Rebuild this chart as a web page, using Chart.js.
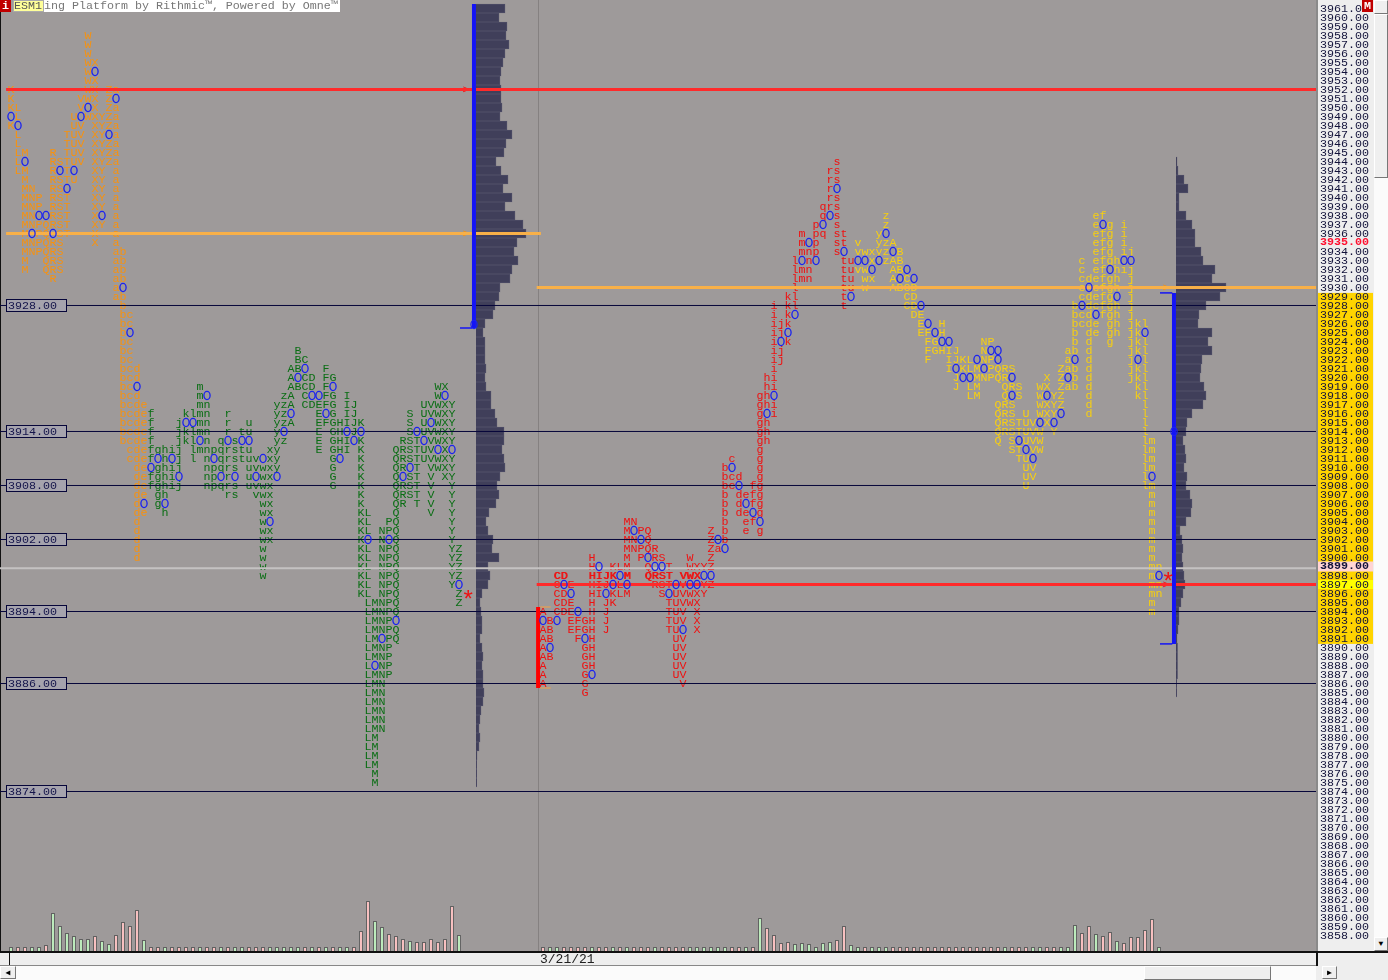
<!DOCTYPE html>
<html>
<head>
<meta charset="utf-8">
<title>ESM1 market profile</title>
<script src="https://cdn.jsdelivr.net/npm/chart.js@4"></script>
<style>
  html, body { margin: 0; padding: 0; background: #eeeeee; width: 1388px; height: 980px; overflow: hidden; }
  canvas { position: absolute; left: 0; top: 0; }
  .ui { position: absolute; box-sizing: border-box; font: 11.67px/12px "Liberation Mono", monospace; white-space: pre; }
  .btn { background: #efefef; border: 1px solid; border-color: #fff #777 #777 #fff; }
  .hatch { background: #fbfbfb; }
</style>
</head>
<body>
<canvas id="chart" width="1388" height="980"></canvas>

<!-- window chrome -->
<div class="ui" style="left:0;top:0;width:11px;height:12px;background:#c00000;color:#fff;text-align:center;font-weight:bold">i</div>
<div class="ui" style="left:13px;top:0;width:31px;height:12px;background:#ffff99;color:#555;border:1px solid #aaa;line-height:10px">ESM1</div>
<div class="ui" style="left:44px;top:0;width:296px;height:12px;background:#fff;color:#777">ing Platform by Rithmic™, Powered by Omne™</div>
<div class="ui" style="left:1362px;top:0;width:11px;height:12px;background:#c00000;color:#fff;text-align:center;font-weight:bold">M</div>
<div class="ui hatch" style="left:1374px;top:0;width:14px;height:951px"></div>
<div class="ui btn" style="left:1374px;top:0;width:14px;height:14px"></div>
<div class="ui btn" style="left:1374px;top:14px;width:14px;height:164px"></div>
<div class="ui btn" style="left:1374px;top:937px;width:14px;height:14px;text-align:center;font-size:8px">▼</div>
<div class="ui" style="left:0;top:951px;width:1388px;height:2px;background:#111"></div>
<div class="ui" style="left:1316px;top:951px;width:2px;height:15px;background:#111"></div>
<div class="ui" style="left:9px;top:952px;width:1px;height:14px;background:#111"></div>
<div class="ui" style="left:0;top:965px;width:1316px;height:1px;background:#888"></div>
<div class="ui hatch" style="left:0;top:966px;width:1316px;height:14px"></div>
<div class="ui btn" style="left:0;top:966px;width:16px;height:13px;text-align:center;font-size:8px;line-height:11px">◀</div>
<div class="ui btn" style="left:1144px;top:966px;width:127px;height:14px"></div>
<div class="ui btn" style="left:1322px;top:966px;width:15px;height:13px;text-align:center;font-size:8px;line-height:11px">▶</div>

<script>
// Price axis
const priceTop = 3961.9444;
const priceBottom = 3856.2778;
const priceTicks = [];
for (let p = 3961; p >= 3858; p--) priceTicks.push(p);
const highlightTick = 3935;
const lastTick = 3899;
const closeTick = 3897;
const valueAreaTicks = [3929.4, 3890.4];
const sessionDates = [[76, "3/21/21"]];

// Reference levels with a box on the left
const refLevels = [3928, 3914, 3908, 3902, 3894, 3886, 3874];

// [price, first column, letters]  space = empty column, 0 = blue open marker
const orangeRows = [
  [3958,11,"W"],[3957,11,"W"],[3956,11,"W"],[3955,11,"WX"],[3954,11,"W0"],[3953,11,"WX"],
  [3952,0,"K          WX Za"],[3951,0,"K         VWX Z0"],[3950,0,"KL        V0X Za"],
  [3949,0,"0L       U0WXYZa"],[3948,0,"K0       UV XYZa"],[3947,1,"L      TUV XY0a"],
  [3946,1,"L      TUV XYZa"],[3945,1,"LM   R TUV XYZa"],[3944,1,"L0   RSTUV XYZa"],
  [3943,1,"LM   R0T0  XY a"],[3942,2,"M   RSTU  XY a"],[3941,2,"MN  RS0   XY a"],
  [3940,2,"MNP RST   XY a"],[3939,2,"MNP RST   XY a"],[3938,2,"MN00RST   X0 a"],
  [3937,2,"MNPQRST   XY a"],[3936,2,"M0PQ0ST   X  a"],[3935,2,"MNPQRS    X  a"],
  [3934,2,"MNPQRS       ab"],[3933,2,"M  QRS       ab"],[3932,2,"M  QRS       ab"],
  [3931,6,"R        ab"],[3930,15,"a0"],[3929,15,"ab"],[3928,16,"b"],[3927,16,"bc"],
  [3926,16,"bc"],[3925,16,"b0"],[3924,16,"bc"],[3923,16,"bc"],[3922,16,"bc"],
  [3921,16,"bcd"],[3920,16,"bcd"],[3919,16,"bc0"],[3918,16,"bcd"],[3917,16,"bcde"],
  [3916,16,"bcde"],[3915,16,"bcde"],[3914,16,"bcde"],[3913,16,"bcde"],[3912,17,"cde"],
  [3911,17,"cde"],[3910,18,"de"],[3909,18,"de"],[3908,18,"de"],[3907,18,"de"],
  [3906,18,"d0"],[3905,18,"de"],[3904,18,"d"],[3903,18,"d"],[3902,18,"d"],[3901,18,"d"],
  [3900,18,"d"],[3936,65,">"],[3930,165,">"]
];

const greenRows = [
  [3923,41,"B"],[3922,41,"BC"],[3921,40,"AB0  F"],[3920,40,"A0CD FG"],
  [3919,27,"m"],[3919,40,"ABCD F0"],[3919,61,"WX"],
  [3918,27,"m0"],[3918,39,"zA C00FG I"],[3918,61,"W0"],
  [3917,27,"mn"],[3917,38,"yzA CDEFG IJ"],[3917,59,"UVWXY"],
  [3916,20,"f"],[3916,25,"klmn"],[3916,31,"r"],[3916,38,"yz0   E0G IJ"],[3916,57,"S UVWXY"],
  [3915,20,"f"],[3915,24,"j00mn"],[3915,31,"r"],[3915,34,"u"],[3915,38,"yzA   EFGHIJK"],[3915,57,"S U0WXY"],
  [3914,20,"f"],[3914,24,"jklmn"],[3914,31,"r"],[3914,33,"tu"],[3914,38,"y0"],[3914,44,"E GH0J0"],[3914,57,"S0UVWXY"],
  [3913,20,"f"],[3913,24,"jkl0n"],[3913,30,"q0s00"],[3913,38,"yz"],[3913,44,"E GHI0K"],[3913,56,"RST0VWXY"],
  [3912,20,"fghij"],[3912,26,"lmnpqrstu"],[3912,37,"xy"],[3912,44,"E GHI K"],[3912,55,"QRSTUV0X0"],
  [3911,20,"f0h0j"],[3911,26,"l n0qrstuv0xy"],[3911,46,"G0  K"],[3911,55,"QRSTUVWXY"],
  [3910,20,"0ghij"],[3910,28,"npqrs uvwxy"],[3910,46,"G   K"],[3910,55,"QR0T VWXY"],
  [3909,20,"fghi0"],[3909,28,"np0r0 u0wx0"],[3909,46,"G   K"],[3909,55,"Q0ST V XY"],
  [3908,20,"fghij"],[3908,28,"npqrs uvwx"],[3908,46,"G   K"],[3908,55,"QRST V  Y"],
  [3907,21,"gh"],[3907,31,"rs"],[3907,35,"vwx"],[3907,50,"K"],[3907,55,"QRST V  Y"],
  [3906,21,"g0"],[3906,36,"wx"],[3906,50,"K"],[3906,55,"QR T V  Y"],
  [3905,22,"h"],[3905,36,"wx"],[3905,50,"KL"],[3905,55,"Q    V  Y"],
  [3904,36,"w0"],[3904,50,"KL  PQ"],[3904,63,"Y"],
  [3903,36,"wx"],[3903,50,"KL NPQ"],[3903,63,"Y"],
  [3902,36,"wx"],[3902,50,"K0 N0Q"],[3902,63,"Y"],
  [3901,36,"w"],[3901,50,"KL NPQ"],[3901,63,"YZ"],
  [3900,36,"w"],[3900,50,"KL NPQ"],[3900,63,"YZ"],
  [3899,36,"w"],[3899,50,"KL NPQ"],[3899,63,"YZ"],
  [3898,36,"w"],[3898,50,"KL NPQ"],[3898,63,"YZ"],
  [3897,50,"KL NPQ"],[3897,63,"Y0"],[3896,50,"KL NPQ"],[3896,64,"Z"],
  [3895,51,"LMNPQ"],[3895,64,"Z"],[3894,51,"LMNPQ"],[3893,51,"LMNP0"],[3892,51,"LMNPQ"],
  [3891,51,"LM0PQ"],[3890,51,"LMNP"],[3889,51,"LMNP"],[3888,51,"L0NP"],[3887,51,"LMNP"],
  [3886,51,"LMN"],[3885,51,"LMN"],[3884,51,"LMN"],[3883,51,"LMN"],[3882,51,"LMN"],[3881,51,"LMN"],
  [3880,51,"LM"],[3879,51,"LM"],[3878,51,"LM"],[3877,51,"LM"],[3876,52,"M"],[3875,52,"M"]
];

const redRows = [
  [3944,118,"s"],[3943,117,"rs"],[3942,117,"rs"],[3941,117,"r0"],[3940,117,"rs"],
  [3939,116,"qrs"],[3938,116,"q0s"],[3937,115,"p0 s"],[3936,113,"m pq st"],[3935,113,"m0p  st"],
  [3934,113,"mnp  s0"],[3933,112,"l0n0   tu"],[3932,112,"lmn    tu"],[3931,112,"lmn    tu"],
  [3930,112,"l      tu"],[3929,111,"kl      t0"],[3928,109,"i kl      t"],[3927,109,"i k0"],
  [3926,109,"ijk"],[3925,109,"ij0"],[3924,109,"i0k"],[3923,109,"ij"],[3922,109,"ij"],[3921,109,"i"],
  [3920,108,"hi"],[3919,108,"hi"],[3918,107,"gh0"],[3917,107,"ghi"],[3916,107,"g0i"],
  [3915,107,"gh"],[3914,107,"gh"],[3913,107,"gh"],[3912,107,"g"],[3911,103,"c   g"],
  [3910,102,"b0   g"],[3909,102,"bcd  g"],[3908,102,"bc0 fg"],[3907,102,"b defg"],
  [3906,102,"b d0fg"],[3905,102,"b de0g"],[3904,88,"MN"],[3904,102,"b  ef0"],
  [3903,88,"M0PQ"],[3903,100,"Z b  e g"],[3902,88,"MN0Q"],[3902,100,"Z0b"],
  [3901,88,"MNPQR"],[3901,100,"Za0"],[3900,83,"H    M P0RS   W  Z"],
  [3899,83,"H0 KLM  Q00T  WXYZ"],[3898,78,"CD   HIJK0M  QRST VWX00"],
  [3897,78,"C0E  HIJ0L0   RST0V00YZ"],[3896,78,"CD0  HI0KLM    S0UVWXY"],
  [3895,78,"CDE  H JK       TUVWX"],[3894,76,"A CDE0 H J        TUV X"],
  [3893,76,"0B0 EFGH J        TUV X"],[3892,76,"AB  EFGH J        TU0 X"],
  [3891,76,"AB   F0H"],[3891,95,"UV"],[3890,76,"A0    GH"],[3890,95,"UV"],
  [3889,76,"AB    GH"],[3889,95,"UV"],[3888,76,"A     GH"],[3888,95,"UV"],
  [3887,76,"A     G0"],[3887,95,"UV"],[3886,76,"A     G"],[3886,96,"V"],[3885,82,"G"],
  [3952,65,">"],[3897,165,">"]
];
const boldRedPrices = [3898];

const yellowRows = [
  [3938,125,"z"],[3938,155,"ef"],[3937,125,"z"],[3937,155,"e0g i"],[3936,124,"y0"],[3936,155,"efg i"],
  [3935,121,"v  yzA"],[3935,155,"efg i"],[3934,121,"vwxyz0B"],[3934,155,"efg ij"],
  [3933,121,"00x0zAB"],[3933,153,"c efgh00"],[3932,121,"vw0  AB0"],[3932,153,"c ef0hij"],
  [3931,122,"wx  A0C0"],[3931,153,"cdefgh j"],[3930,122,"w   ABCD"],[3930,153,"c0efgh j"],
  [3929,128,"CD"],[3929,153,"cdefg0 j"],[3928,128,"CD0"],[3928,152,"b0defgh j"],
  [3927,129,"DE"],[3927,152,"bcd0fgh j"],[3926,130,"E0 H"],[3926,152,"bcde gh jkl"],
  [3925,130,"EF0H"],[3925,152,"b de gh jk0"],[3924,131,"FG00"],[3924,139,"NP"],[3924,152,"b d  g  jkl"],
  [3923,131,"FGHIJ"],[3923,139,"N00"],[3923,151,"ab d     jkl"],
  [3922,131,"F  IJKL0NP0"],[3922,151,"a0 d     j0l"],
  [3921,134,"I0KLM0PQRS"],[3921,150,"Zab d     jkl"],
  [3920,135,"J00MNPQR0"],[3920,148,"X Z0b d     jkl"],
  [3919,135,"J LM   QRS"],[3919,147,"WX Zab d      kl"],
  [3918,137,"LM   Q0S"],[3918,147,"W0YZ   d      kl"],
  [3917,141,"QRS"],[3917,147,"WXYZ   d       l"],[3916,141,"QRS U WXY0   d       l"],
  [3915,141,"QRSTUV0X0"],[3915,162,"l"],[3914,141,"QRSTUVW Y"],[3914,162,"l"],
  [3913,141,"Q S0UVW"],[3913,162,"lm"],[3912,143,"ST0VW"],[3912,162,"lm"],
  [3911,144,"TU0"],[3911,162,"lm"],[3910,145,"UV"],[3910,162,"lm"],[3909,145,"UV"],[3909,162,"l0"],
  [3908,145,"U"],[3908,162,"lm"],[3907,163,"m"],[3906,163,"m"],[3905,163,"m"],[3904,163,"m"],
  [3903,163,"m"],[3902,163,"m"],[3901,163,"m"],[3900,163,"m"],[3899,163,"mn"],[3898,163,"m0"],
  [3897,163,"mn"],[3896,163,"mn"],[3895,163,"m"],[3894,163,"m"]
];

// Closing stars [price, column]
const starMarks = [[3896,65.3],[3898,165.3]];

// Volume profile widths, one per price from the top price down
const profile1Top = 3961;
const profile1Widths = [29,23,31,30,33,29,27,25,24,25,25,26,24,31,36,30,28,20,25,32,27,36,29,39,47,50,41,38,42,36,34,24,23,19,17,9,7,9,9,9,10,9,10,15,15,19,21,28,28,26,28,29,24,21,23,20,13,10,12,17,16,23,12,14,12,6,4,5,6,6,4,6,7,6,7,7,8,7,5,4,3,4,3,1,0.6,0.6,0.6];
const profile2Top = 3944;
const profile2Widths = [1,2,8,12,3,3,10,16,19,19,25,27,39,36,50,44,30,23,22,36,32,36,26,25,24,28,30,27,16,11,10,7,9,10,8,11,10,14,16,15,10,4,6,7,6,7,8,9,7,5,3,3,2,1,1.5,1.5,1.5,1.5,0.6,0.6];

// Session volume bars by column, g = up, p = down
const volumes1 = [4,4,4,4,4,6,38,25,18,15,12,12,15,10,7,16,29,25,41,11,4,4,4,4,4,4,4,4,4,4,4,4,4,4,4,4,4,4,4,4,4,4,4,4,4,4,4,4,4,4,20,50,30,24,17,15,12,10,9,9,12,9,12,45,16];
const volumeSides1 = "gppggpggggggpggppppgppgppppgppgpggpppgggggpgpgpggpppggpppgppppppg";
const volumes2Start = 76;
const volumes2 = [
  4,4,4,4,4,4,4,4,4,4,4,4,4,4,4,4,4,4,4,4,4,4,4,4,4,4,4,4,4,4,4,
  33,23,16,8,9,7,8,7,4,8,9,11,25,6,4,
  4,4,4,4,4,4,4,4,4,4,4,4,4,4,4,4,4,4,4,4,4,4,4,4,4,4,4,4,4,4,
  26,18,25,17,15,19,10,8,14,14,21,32,4
];
const volumeSides2 = "pggppppgppgpgpppgppppgg" + "ggggppgp" + "gppppggggggppggpggg" + "pppppppppppppppp" + "gpppggppggg" + "ppgppgpppppg";

// Lines: [price, from column, to column]
const rightEdge = 186.43;
const leftEdge = -1.57;
const redPocLines = [[3952,-0.7,rightEdge],[3897,75.1,rightEdge]];
const orangePocLines = [[3936,-0.7,75.7],[3930,75.1,rightEdge]];
const lastPriceLine = [3898.8,leftEdge,rightEdge];
// Value area: [column, high, low]
const valueAreas = [[66.14,3961.5,3925.5],[166.14,3929.4,3890.4]];
const valueAreaStubs = [[3925.5,64.14,65.9],[3929.4,164.14,165.9],[3890.4,164.14,165.9]];
const openingRange = [75.3,3894.5,3885.5];
const openingTicks = [[3894.5,75.6,77.1],[3885.5,75.6,77.1]];
const sessionSplit = 75.36;
const poorMarks = [[66.14,3925.9],[166.14,3914]];

const bg = "#9e9a9a";
const monoFont = '"Liberation Mono", monospace';

// small oval used for the blue open markers
const oval = document.createElement("canvas");
oval.width = 10; oval.height = 11;
const ovalCtx = oval.getContext("2d");
ovalCtx.strokeStyle = "#1a22f0";
ovalCtx.lineWidth = 1.3;
ovalCtx.beginPath();
ovalCtx.ellipse(5, 5.5, 3.1, 4.1, 0, 0, Math.PI * 2);
ovalCtx.stroke();

function lettersFrom(rows) {
  const pts = [];
  rows.forEach(([price, col, text]) => {
    [...text].forEach((ch, i) => {
      if (ch !== " " && ch !== "0") pts.push({ x: col + i, y: price, ch });
    });
  });
  return pts;
}
function markersFrom(rows) {
  const pts = [];
  rows.forEach(([price, col, text]) => {
    [...text].forEach((ch, i) => {
      if (ch === "0") pts.push({ x: col + i, y: price });
    });
  });
  return pts;
}
function letterSet(rows, color, bold) {
  return { type: "scatter", xAxisID: "x", yAxisID: "y", data: lettersFrom(rows), pointRadius: 0, order: 8, tpoColor: color, boldPrices: bold || [] };
}
function hLine(row, color, width, order) {
  return { type: "line", xAxisID: "x", yAxisID: "y", data: [{ x: row[1], y: row[0] }, { x: row[2], y: row[0] }], borderColor: color, borderWidth: width, pointRadius: 0, order: order };
}
function vLine(col, y1, y2, color, width, order) {
  return { type: "line", xAxisID: "x", yAxisID: "y", data: [{ x: col, y: y1 }, { x: col, y: y2 }], borderColor: color, borderWidth: width, pointRadius: 0, order: order };
}
function profileSet(top, widths, axis) {
  return {
    type: "bar", indexAxis: "y", xAxisID: axis, yAxisID: "y",
    data: widths.map((w, i) => ({ x: w, y: top - i })),
    backgroundColor: "#403f5a", borderColor: "#4d4c66", borderWidth: 1,
    barPercentage: 1, categoryPercentage: 1, grouped: false, order: 10
  };
}

const volumeBars = volumes1.map((v, i) => ({ x: i, y: v })).concat(volumes2.map((v, i) => ({ x: volumes2Start + i, y: v })));
const volumeSides = (volumeSides1 + volumeSides2).split("");

const datasets = [
  {
    type: "bar", xAxisID: "x", yAxisID: "yVol", data: volumeBars,
    backgroundColor: volumeSides.map(s => s === "g" ? "#bff2bf" : "#ffc4c4"),
    borderColor: "#5f5f5f", borderWidth: 1, barPercentage: 0.55, categoryPercentage: 1, grouped: false, order: 11
  },
  profileSet(profile1Top, profile1Widths, "xProf1"),
  profileSet(profile2Top, profile2Widths, "xProf2"),
  vLine(sessionSplit, priceTop, priceBottom, "#858181", 1, 9),
  letterSet(orangeRows, "#f7920f"),
  letterSet(greenRows, "#0a6e14"),
  letterSet(redRows, "#f01010", boldRedPrices),
  letterSet(yellowRows, "#f7cf10"),
  hLine(lastPriceLine, "#c4c2c2", 2, 7)
];
refLevels.forEach(p => datasets.push(hLine([p, leftEdge, rightEdge], "#06063a", 1, 6)));
redPocLines.forEach(l => datasets.push(hLine(l, "#ff2a2a", 3, 5)));
orangePocLines.forEach(l => datasets.push(hLine(l, "#f8b048", 3, 5)));
valueAreas.forEach(v => datasets.push(vLine(v[0], v[1], v[2], "#1414f5", 4, 4)));
valueAreaStubs.forEach(l => datasets.push(hLine(l, "#1414f5", 1.5, 4)));
datasets.push(vLine(openingRange[0], openingRange[1], openingRange[2], "#ff0000", 4, 4));
openingTicks.forEach(l => datasets.push(hLine(l, "#f8a040", 1, 4)));
datasets.push({
  type: "scatter", xAxisID: "x", yAxisID: "y",
  data: [].concat(markersFrom(orangeRows), markersFrom(greenRows), markersFrom(redRows), markersFrom(yellowRows), poorMarks.map(m => ({ x: m[0], y: m[1] }))),
  pointStyle: oval, pointRadius: 4, order: 2
});
datasets.push({
  type: "scatter", xAxisID: "x", yAxisID: "y", data: starMarks.map(s => ({ x: s[1], y: s[0], ch: "*" })), pointRadius: 0, order: 1,
  tpoColor: "#f01010", starFont: true
});

// draws the panels, the TPO letters and the boxed level labels from the chart scales
const profileText = {
  id: "profileText",
  beforeDraw(chart) {
    const { ctx, chartArea: a, scales } = chart;
    const y = scales.y;
    ctx.save();
    ctx.fillStyle = bg;
    ctx.fillRect(a.left, a.top, a.width, a.height);
    ctx.fillStyle = "#111";
    ctx.fillRect(a.left, 12, 1, a.height - 12);
    const l = a.right, w = y.right - y.left;
    ctx.fillStyle = "#eeeeee";
    ctx.fillRect(l, a.top, w, a.height);
    ctx.fillStyle = "#ffd400";
    const t = y.getPixelForValue(valueAreaTicks[0]), b = y.getPixelForValue(valueAreaTicks[1]);
    ctx.fillRect(l, t, w, b - t);
    ctx.fillStyle = "#ffd4d4";
    ctx.fillRect(l, y.getPixelForValue(lastTick) - 5, w, 10);
    ctx.fillStyle = "#ffff00";
    ctx.fillRect(l, y.getPixelForValue(closeTick) - 4.5, w, 9);
    ctx.fillStyle = "#8a8a8a";
    ctx.fillRect(l, a.top, 2, a.height);
    ctx.restore();
  },
  afterDatasetDraw(chart, args) {
    const ds = chart.data.datasets[args.index];
    if (!ds.tpoColor) return;
    const ctx = chart.ctx;
    ctx.save();
    ctx.fillStyle = ds.tpoColor;
    ctx.textAlign = "center";
    ctx.textBaseline = "middle";
    ctx.font = ds.starFont ? "24px " + monoFont : "11.67px " + monoFont;
    args.meta.data.forEach((el, i) => {
      const pt = ds.data[i];
      const yy = ds.starFont ? el.y + 8 : el.y;
      ctx.fillText(pt.ch, el.x, yy);
      if (ds.boldPrices && ds.boldPrices.includes(pt.y)) ctx.fillText(pt.ch, el.x + 0.7, yy);
    });
    ctx.restore();
  },
  afterDraw(chart) {
    const { ctx, scales } = chart;
    const y = scales.y, x = scales.x;
    ctx.save();
    ctx.font = "11.67px " + monoFont;
    ctx.textBaseline = "middle";
    refLevels.forEach(p => {
      const py = Math.round(y.getPixelForValue(p) - 0.5);
      ctx.fillStyle = "#a5a3ad";
      ctx.fillRect(6, py - 6, 60, 13);
      ctx.strokeStyle = "#06063a";
      ctx.lineWidth = 1;
      ctx.strokeRect(6.5, py - 5.5, 60, 12);
      ctx.fillStyle = "#14144a";
      ctx.textAlign = "left";
      ctx.fillText(p.toFixed(2), 8, py + 1);
    });
    ctx.fillStyle = "#eeeeee";
    ctx.fillRect(0, 953, 1316, 12);
    ctx.font = "13px " + monoFont;
    ctx.fillStyle = "#222";
    sessionDates.forEach(([col, label]) => {
      ctx.fillText(label, x.getPixelForValue(col) - 3, 959.5);
    });
    ctx.restore();
  }
};

const noPadding = axis => {
  axis.paddingTop = 0; axis.paddingBottom = 0; axis.paddingLeft = 0; axis.paddingRight = 0;
};

new Chart(document.getElementById("chart"), {
  type: "bar",
  data: { datasets },
  plugins: [profileText],
  options: {
    responsive: false,
    animation: false,
    events: [],
    layout: { autoPadding: false, padding: { left: 0, top: 0, right: 15, bottom: 29 } },
    plugins: { legend: { display: false }, tooltip: { enabled: false } },
    scales: {
      x: { type: "linear", axis: "x", min: leftEdge, max: rightEdge, display: false, offset: false },
      xProf1: { type: "linear", axis: "x", min: -476, max: 840, display: false, offset: false },
      xProf2: { type: "linear", axis: "x", min: -1176, max: 140, display: false, offset: false },
      y: {
        type: "linear", axis: "y", position: "right", min: priceBottom, max: priceTop, offset: false,
        grid: { display: false, drawTicks: false },
        border: { display: false },
        afterBuildTicks: axis => { axis.ticks = priceTicks.map(v => ({ value: v })); },
        afterFit: axis => { axis.width = 57; noPadding(axis); },
        ticks: {
          autoSkip: false, padding: 4,
          font: ctx => ({ family: monoFont, size: 11.67, weight: ctx.tick && (ctx.tick.value === highlightTick || ctx.tick.value === lastTick) ? "bold" : "normal" }),
          color: ctx => ctx.tick && ctx.tick.value === highlightTick ? "#ff1030" : "#12123a",
          callback: v => Number(v).toFixed(2)
        }
      },
      yVol: { type: "linear", axis: "y", min: 0, max: 951, display: false, offset: false }
    }
  }
});
</script>
</body>
</html>
